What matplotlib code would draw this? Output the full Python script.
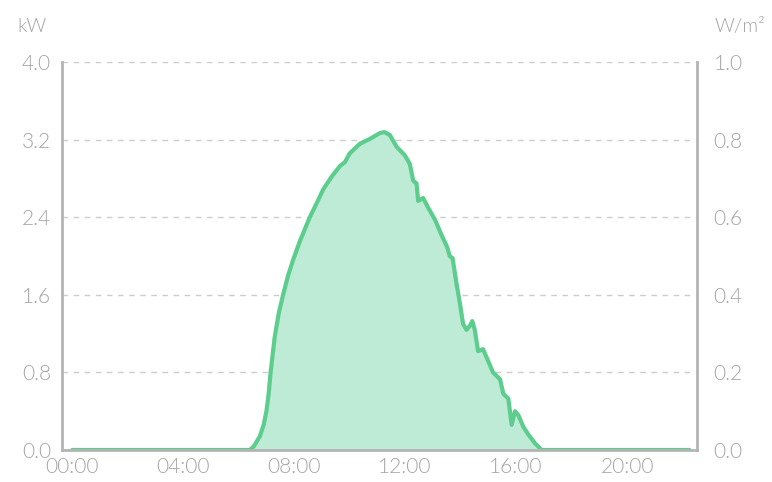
import matplotlib
matplotlib.use("Agg")
import matplotlib.pyplot as plt

# solar output for the day, hours since midnight vs kW
hours = [0.0, 6.40, 6.55, 6.76, 6.90, 7.00, 7.08, 7.15, 7.30, 7.45, 7.60, 7.78,
         7.96, 8.20, 8.56, 8.85, 9.05, 9.35, 9.65, 9.83,
         10.0, 10.37, 10.73, 11.09, 11.25, 11.45, 11.69, 11.99, 12.17, 12.29,
         12.41, 12.47, 12.65, 12.83, 13.07, 13.31, 13.52, 13.61, 13.71, 13.85,
         13.97, 14.09, 14.21, 14.33, 14.42, 14.51, 14.63, 14.81, 14.99, 15.17,
         15.42, 15.54, 15.72, 15.84, 15.96, 16.08, 16.26, 16.44, 16.68, 16.92,
         22.25]
kw = [0.0, 0.0, 0.04, 0.14, 0.26, 0.40, 0.58, 0.80, 1.17, 1.42, 1.60, 1.80,
      1.96, 2.15, 2.40, 2.57, 2.69, 2.82, 2.93, 2.97,
      3.06, 3.16, 3.21, 3.27, 3.28, 3.25, 3.13, 3.04, 2.95, 2.78,
      2.75, 2.57, 2.60, 2.50, 2.38, 2.22, 2.09, 2.00, 1.98, 1.72,
      1.52, 1.30, 1.24, 1.28, 1.33, 1.24, 1.02, 1.04, 0.92, 0.80,
      0.73, 0.58, 0.53, 0.26, 0.40, 0.36, 0.24, 0.16, 0.07, 0.0,
      0.0]

kw_ticks = [0.0, 0.8, 1.6, 2.4, 3.2, 4.0]
irr_ticks = [0.0, 0.2, 0.4, 0.6, 0.8, 1.0]
x_ticks = [0, 4, 8, 12, 16, 20]
x_labels = ["00:00", "04:00", "08:00", "12:00", "16:00", "20:00"]

text_col = "#a4a4a4"
axis_col = "#b4b4b4"
line_col = "#5ccd8d"
fill_col = "#bdebd5"

plt.rcParams["font.family"] = ["Lato", "DejaVu Sans"]
plt.rcParams["font.weight"] = 300

fig = plt.figure(figsize=(7.72, 4.82), dpi=100)
ax = fig.add_axes([0.0803, 0.0664, 0.8225, 0.8043])

ax.fill_between(hours, kw, 0, color=fill_col, linewidth=0)
ax.plot(hours, kw, color=line_col, linewidth=3, solid_capstyle="round",
        solid_joinstyle="round")

ax.set_xlim(-0.37, 22.52)
ax.set_ylim(0, 4.0)
ax.set_yticks(kw_ticks)
ax.set_yticklabels([f"{t:.1f}" for t in kw_ticks])
ax.set_xticks(x_ticks)
ax.set_xticklabels(x_labels)

for t in kw_ticks[1:]:
    ax.axhline(t, color="#cccccc", linewidth=1, linestyle=(0, (4, 4)), zorder=0)

for s in ["left", "right", "bottom"]:
    ax.spines[s].set_color(axis_col)
    ax.spines[s].set_linewidth(2)
ax.spines["top"].set_visible(False)
ax.tick_params(length=0, labelsize=15, colors=text_col, pad=8)
ax.tick_params(axis="x", pad=5)

ax2 = ax.twinx()
ax2.set_ylim(0, 1.0)
ax2.set_yticks(irr_ticks)
ax2.set_yticklabels([f"{t:.1f}" for t in irr_ticks])
ax2.tick_params(length=0, labelsize=15, colors=text_col, pad=12)
for s in ax2.spines.values():
    s.set_visible(False)

fig.text(0.023, 0.945, "kW", fontsize=14, color=text_col, va="center")
fig.text(0.925, 0.945, "W/m²", fontsize=14, color=text_col, va="center")

fig.savefig("out.png", dpi=100)
